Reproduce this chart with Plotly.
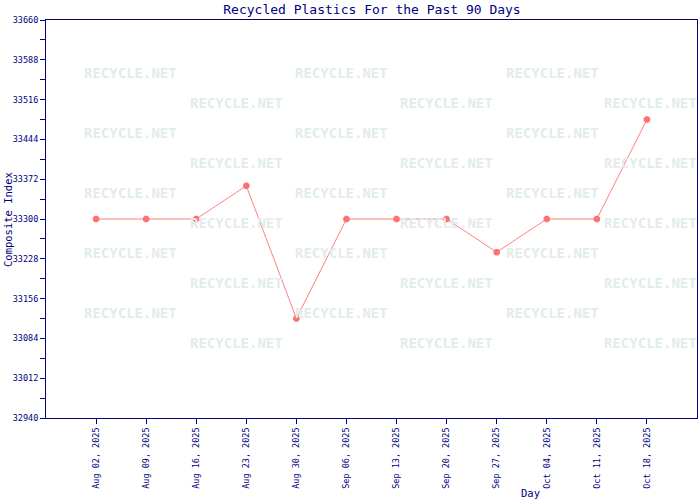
import plotly.graph_objects as go

days = ["Aug 02, 2025", "Aug 09, 2025", "Aug 16, 2025", "Aug 23, 2025", "Aug 30, 2025",
        "Sep 06, 2025", "Sep 13, 2025", "Sep 20, 2025", "Sep 27, 2025", "Oct 04, 2025",
        "Oct 11, 2025", "Oct 18, 2025"]
values = [33300, 33300, 33300, 33360, 33120, 33300, 33300, 33300, 33240, 33300, 33300, 33480]
y_ticks = [32940, 33012, 33084, 33156, 33228, 33300, 33372, 33444, 33516, 33588, 33660]

NAVY = "#000080"
FONT = "DejaVu Sans Mono"
W, H = 700, 500
L, R, T, B = 46, 3, 20, 82
PW, PH = W - L - R, H - T - B


def px(x):
    return (x - L) / PW


def py(y):
    return (H - B - y) / PH


fig = go.Figure()
fig.add_trace(go.Scatter(
    x=days, y=values, mode="lines+markers",
    line=dict(color="#ff7f7f", width=1),
    marker=dict(symbol="octagon", size=7, color="#ff7070", line=dict(width=0)),
    showlegend=False, hoverinfo="x+y",
))

# watermark tiles
ann = []
rows_y = [73, 103, 133, 163, 193, 223, 253, 283, 313, 343]
for i, yy in enumerate(rows_y):
    xs = [130, 341, 552] if i % 2 == 0 else [236, 446, 650]
    for xx in xs:
        ann.append(dict(x=px(xx), y=py(yy), xref="paper", yref="paper",
                        text="<b>RECYCLE.NET</b>", showarrow=False, xanchor="center", yanchor="middle",
                        font=dict(family=FONT, size=14, color="#e2ecec")))

ann.append(dict(x=px(530), y=py(493), xref="paper", yref="paper", text="Day",
                showarrow=False, xanchor="center", yanchor="middle",
                font=dict(family=FONT, size=10.5, color=NAVY)))
ann.append(dict(x=px(8), y=py(220), xref="paper", yref="paper", text="Composite Index",
                showarrow=False, xanchor="center", yanchor="middle", textangle=-90,
                font=dict(family=FONT, size=10.5, color=NAVY)))

fig.update_layout(
    width=W, height=H,
    margin=dict(l=L, r=R, t=T, b=B, autoexpand=False),
    paper_bgcolor="white", plot_bgcolor="white",
    title=dict(text="Recycled Plastics For the Past 90 Days", x=372 / W, xanchor="center",
               y=1 - 9 / H, yanchor="middle",
               font=dict(family=FONT, size=13, color=NAVY)),
    annotations=ann,
    xaxis=dict(
        type="category", range=[-1, 12], showgrid=False, zeroline=False,
        showline=True, linecolor=NAVY, linewidth=1, mirror=True,
        ticks="outside", ticklen=5, tickcolor=NAVY, tickangle=-90,
        tickfont=dict(family=FONT, size=8.5, color=NAVY),
    ),
    yaxis=dict(
        range=[32940, 33660], tickvals=y_ticks, showgrid=False, zeroline=False,
        showline=True, linecolor=NAVY, linewidth=1, mirror=True,
        ticks="outside", ticklen=5, tickcolor=NAVY, tickformat="d",
        tickfont=dict(family=FONT, size=8.5, color=NAVY),
        minor=dict(ticks="outside", ticklen=5, tickcolor=NAVY, dtick=36, tick0=32940, showgrid=False),
    ),
)

fig.write_html(
    "out.html",
    config={"displayModeBar": False},
    post_script="document.body.style.margin='0';document.body.style.overflow='hidden';",
)
